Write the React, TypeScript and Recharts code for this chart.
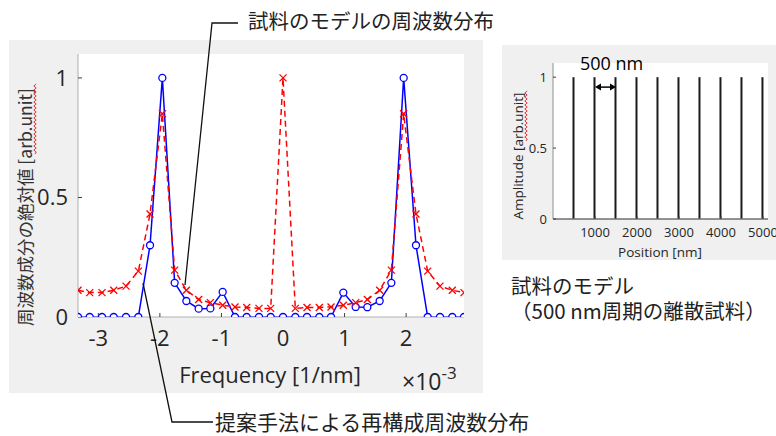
import React from 'react'
import { LineChart, ComposedChart, XAxis, YAxis, Line, Bar, CartesianGrid, ReferenceLine } from 'recharts'

// frequency axis [x10^-3 1/nm]
const frequency = [
  -3.33, -3.14, -2.94, -2.75, -2.55, -2.35, -2.16, -1.96, -1.76, -1.57, -1.37,
  -1.18, -0.98, -0.78, -0.59, -0.39, -0.2, 0, 0.2, 0.39, 0.59, 0.78,
  0.98, 1.18, 1.37, 1.57, 1.76, 1.96, 2.16, 2.35, 2.55, 2.75, 2.94,
]
// proposed method (blue, circles)
const reconstructed = [
  0, 0, 0, 0, 0, 0, 0.3, 1.0, 0.143, 0.067, 0.035,
  0.036, 0.105, 0, 0, 0, 0, 0, 0, 0, 0, 0,
  0.102, 0.042, 0.041, 0.067, 0.143, 1.0, 0.3, 0, 0, 0, 0,
]
// sample model spectrum (red, crosses)
const modelSpectrum = [
  0.112, 0.102, 0.102, 0.112, 0.129, 0.192, 0.431, 0.85, 0.196, 0.112, 0.073,
  0.06, 0.049, 0.042, 0.04, 0.036, 0.036, 1.0, 0.036, 0.04, 0.04, 0.042,
  0.049, 0.06, 0.073, 0.112, 0.196, 0.85, 0.431, 0.192, 0.129, 0.112, 0.102,
]
const freqTicks = [-3, -2, -1, 0, 1, 2]
const ampTicks = [0, 0.5, 1]

// inset: discrete sample with 500 nm period
const linePositions = [500, 1000, 1500, 2000, 2500, 3000, 3500, 4000, 4500, 5000]
const lineAmplitudes = [1, 1, 1, 1, 1, 1, 1, 1, 1, 1]
const positionTicks = [1000, 2000, 3000, 4000, 5000]

const spectrum = frequency.map((f, i) => ({ f, recon: reconstructed[i], model: modelSpectrum[i] }))
const sample = linePositions.map((x, i) => ({ x, amp: lineAmplitudes[i] }))

const latin = '"Open Sans", sans-serif'
const cjk = '"Noto Sans CJK JP", sans-serif'
const ink = '#262626'

const Cross = (p: any) => {
  const { cx, cy, index } = p
  if (cx == null || cy == null) return <g key={'c' + index} />
  const s = 3.5
  return (
    <g key={'c' + index}>
      <line x1={cx - s} y1={cy - s} x2={cx + s} y2={cy + s} stroke="#ff0000" strokeWidth={1.3} />
      <line x1={cx - s} y1={cy + s} x2={cx + s} y2={cy - s} stroke="#ff0000" strokeWidth={1.3} />
    </g>
  )
}

const DoubleArrow = (p: any) => {
  const { x1, y1, x2, y2 } = p
  return (
    <g>
      <line x1={x1 + 3} y1={y1} x2={x2 - 3} y2={y2} stroke="#000" strokeWidth={1.5} />
      <path d={`M${x1},${y1} l6,-3.5 l0,7 z`} fill="#000" />
      <path d={`M${x2},${y2} l-6,-3.5 l0,7 z`} fill="#000" />
    </g>
  )
}

// red spell-check squiggle next to rotated text
const squiggle = (x: number, yTop: number, yBottom: number) => {
  let d = `M${x},${yBottom}`
  let side = 1
  for (let y = yBottom - 2; y >= yTop; y -= 2) {
    d += ` L${x + side * 1.2},${y}`
    side = -side
  }
  return <path d={d} stroke="#e02020" strokeWidth={0.9} fill="none" />
}

export default function App() {
  return (
    <div style={{ position: 'absolute', left: 0, top: 0, width: 776, height: 436, background: '#fff', overflow: 'hidden' }}>
      <div style={{ position: 'absolute', left: 9, top: 40, width: 474, height: 353, background: '#f0f0f0' }} />
      <div style={{ position: 'absolute', left: 502, top: 45, width: 274, height: 215, background: '#f0f0f0' }} />

      <div style={{ position: 'absolute', left: 0, top: 0 }}>
        <LineChart width={483} height={393} data={spectrum} margin={{ top: 54, right: 19, bottom: 36, left: 0 }}>
          <CartesianGrid fill="#ffffff" horizontal={false} vertical={false} />
          <XAxis
            dataKey="f"
            type="number"
            domain={[frequency[0], frequency[frequency.length - 1]]}
            allowDataOverflow
            ticks={freqTicks}
            height={40}
            tickSize={-4}
            tickMargin={17}
            tick={{ fontSize: 22, fill: ink, fontFamily: latin }}
            axisLine={{ stroke: '#b0b0b0' }}
            tickLine={{ stroke: '#404040' }}
          />
          <XAxis
            xAxisId="top"
            orientation="top"
            type="number"
            domain={[frequency[0], frequency[frequency.length - 1]]}
            allowDataOverflow
            ticks={freqTicks}
            height={0}
            tickSize={-4}
            tick={false}
            axisLine={{ stroke: '#b0b0b0' }}
            tickLine={{ stroke: '#404040' }}
          />
          <YAxis
            type="number"
            domain={[0, 1.1]}
            allowDataOverflow
            ticks={ampTicks}
            width={78}
            tickSize={-4}
            tickMargin={14}
            tick={{ fontSize: 22, fill: ink, fontFamily: latin }}
            axisLine={{ stroke: '#b0b0b0' }}
            tickLine={{ stroke: '#404040' }}
          />
          <YAxis
            yAxisId="right"
            orientation="right"
            type="number"
            domain={[0, 1.1]}
            ticks={ampTicks}
            width={0}
            tickSize={-4}
            tick={false}
            axisLine={{ stroke: '#b0b0b0' }}
            tickLine={{ stroke: '#404040' }}
          />
          <Line
            dataKey="recon"
            stroke="#0000ff"
            strokeWidth={1.5}
            dot={{ r: 3.5, fill: '#ffffff', stroke: '#0000ff', strokeWidth: 1.3 }}
            isAnimationActive={false}
          />
          <Line
            dataKey="model"
            stroke="#ff0000"
            strokeWidth={1.5}
            strokeDasharray="6 4"
            dot={Cross}
            isAnimationActive={false}
          />
        </LineChart>
      </div>

      <div style={{ position: 'absolute', left: 502, top: 45 }}>
        <ComposedChart width={274} height={215} data={sample} margin={{ top: 18, right: 8, bottom: 0, left: 0 }}>
          <CartesianGrid fill="#ffffff" horizontal={false} vertical={false} />
          <XAxis
            dataKey="x"
            type="number"
            domain={[0, 5120]}
            allowDataOverflow
            ticks={positionTicks}
            height={41}
            tickSize={-3}
            tickMargin={12}
            tick={{ fontSize: 13, fill: ink, fontFamily: latin }}
            axisLine={{ stroke: '#707070', strokeWidth: 1.5 }}
            tickLine={{ stroke: '#404040' }}
          />
          <XAxis
            xAxisId="top"
            orientation="top"
            type="number"
            domain={[0, 5120]}
            allowDataOverflow
            ticks={positionTicks}
            height={0}
            tickSize={-3}
            tick={false}
            axisLine={{ stroke: '#909090' }}
            tickLine={{ stroke: '#909090' }}
          />
          <YAxis
            type="number"
            domain={[0, 1.1]}
            allowDataOverflow
            ticks={ampTicks}
            width={51}
            tickSize={-3}
            tickMargin={9}
            tick={{ fontSize: 13, fill: ink, fontFamily: latin }}
            axisLine={{ stroke: '#909090' }}
            tickLine={{ stroke: '#404040' }}
          />
          <YAxis
            yAxisId="right"
            orientation="right"
            type="number"
            domain={[0, 1.1]}
            ticks={ampTicks}
            width={0}
            tickSize={-3}
            tick={false}
            axisLine={{ stroke: '#909090' }}
            tickLine={{ stroke: '#909090' }}
          />
          <Bar dataKey="amp" barSize={2} fill="#1a1a1a" isAnimationActive={false} />
          <ReferenceLine
            segment={[{ x: 1000, y: 0.93 }, { x: 1500, y: 0.93 }]}
            shape={DoubleArrow}
          />
        </ComposedChart>
      </div>

      <svg width={776} height={436} style={{ position: 'absolute', left: 0, top: 0, pointerEvents: 'none' }}>
        {/* main chart titles */}
        <text x={24} y={207} transform="rotate(-90 24 207)" textAnchor="middle" dominantBaseline="central"
          fontSize={17.5} fontFamily={cjk} fill="#333">
          周波数成分の絶対値 [arb.unit]
        </text>
        {squiggle(35, 84, 154)}
        <text x={270} y={383} textAnchor="middle" fontSize={22} fontFamily={latin} fill={ink}>
          Frequency [1/nm]
        </text>
        <text x={402} y={390} fontSize={23} fontFamily={latin} fill={ink}>
          ×10
          <tspan dy={-11} fontSize={17}>-3</tspan>
        </text>

        {/* inset titles */}
        <text x={518} y={156} transform="rotate(-90 518 156)" textAnchor="middle" dominantBaseline="central"
          fontSize={13.5} fontFamily={latin} fill={ink}>
          Amplitude [arb.unit]
        </text>
        {squiggle(526, 90, 141)}
        <text x={660} y={257} textAnchor="middle" fontSize={13.5} fontFamily={latin} fill={ink}>
          Position [nm]
        </text>
        <text x={580} y={70} fontSize={18} fontFamily={latin} fill="#000">
          500 nm
        </text>

        {/* captions */}
        <text x={511} y={294} fontSize={20.5} fontFamily={cjk} fill="#222">試料のモデル</text>
        <text x={511} y={319} fontSize={20.5} fontFamily={cjk} fill="#222">（500 nm周期の離散試料）</text>

        {/* annotation callouts */}
        <polyline points="238,23 212,23 185,285" fill="none" stroke="#111" strokeWidth={1.3} />
        <text x={248} y={29} fontSize={20.5} fontFamily={cjk} fill="#222">試料のモデルの周波数分布</text>
        <polyline points="213,422 172,422 143,283" fill="none" stroke="#111" strokeWidth={1.3} />
        <text x={215} y={430} fontSize={21} fontFamily={cjk} fill="#222">提案手法による再構成周波数分布</text>
      </svg>
    </div>
  )
}
